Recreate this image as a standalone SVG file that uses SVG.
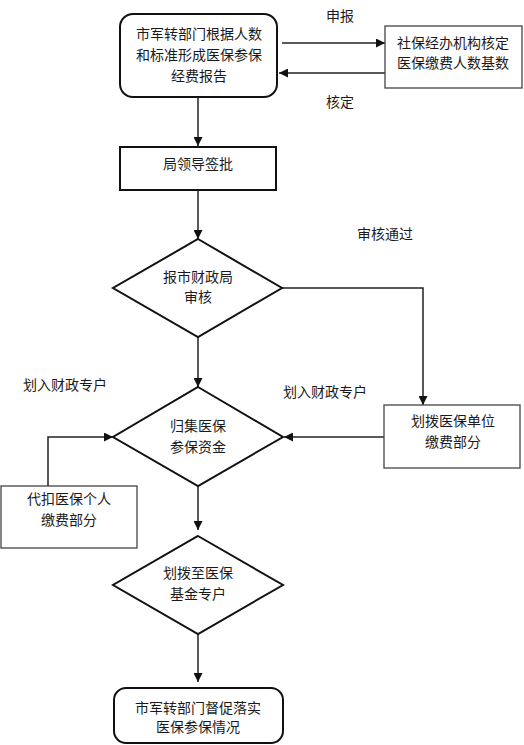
<svg xmlns="http://www.w3.org/2000/svg" width="524" height="745" viewBox="0 0 524 745">
<defs>
<marker id="ah" viewBox="0 0 10 10" refX="10" refY="5" markerWidth="9" markerHeight="9" markerUnits="userSpaceOnUse" orient="auto">
<path d="M0,0 L10,5 L0,10 Z" fill="#111"/>
</marker>
<style>
text{font-family:"Liberation Sans","Noto Sans CJK SC",sans-serif;font-size:14px;fill:#1a1a1a;text-anchor:middle;dominant-baseline:central}
.thick{fill:#fff;stroke:#111;stroke-width:2}
.thin{fill:#fff;stroke:#444;stroke-width:1.3}
.c{fill:none;stroke:#222;stroke-width:1.5}
</style>
</defs>
<rect width="524" height="745" fill="#fff"/>
<g id="connectors">
<line class="c" x1="282" y1="43" x2="385" y2="43" marker-end="url(#ah)"/>
<line class="c" x1="385" y1="73" x2="279" y2="73" marker-end="url(#ah)"/>
<line class="c" x1="198" y1="97" x2="198" y2="146" marker-end="url(#ah)"/>
<line class="c" x1="198" y1="190" x2="198" y2="239" marker-end="url(#ah)"/>
<polyline class="c" points="282,288 423,288 423,405" marker-end="url(#ah)"/>
<line class="c" x1="198" y1="337" x2="198" y2="387" marker-end="url(#ah)"/>
<line class="c" x1="384" y1="437" x2="284" y2="437" marker-end="url(#ah)"/>
<polyline class="c" points="48,486 48,437 113,437" marker-end="url(#ah)"/>
<line class="c" x1="198" y1="486" x2="198" y2="530" marker-end="url(#ah)"/>
<line class="c" x1="198" y1="634" x2="198" y2="682" marker-end="url(#ah)"/>
<text x="340" y="16">申报</text>
<text x="340" y="102">核定</text>
<text x="385" y="234">审核通过</text>
<text x="65" y="385">划入财政专户</text>
<text x="325" y="392">划入财政专户</text>
</g>
<g id="n1">
<rect class="thick" x="120" y="14" width="157" height="83" rx="13"/>
<text x="199" y="34">市军转部门根据人数</text>
<text x="199" y="55">和标准形成医保参保</text>
<text x="199" y="76">经费报告</text>
</g>
<g id="n2">
<rect class="thin" x="385" y="26" width="137" height="62"/>
<text x="453" y="43">社保经办机构核定</text>
<text x="453" y="63">医保缴费人数基数</text>
</g>
<g id="n3">
<rect class="thick" x="120" y="147" width="156" height="43"/>
<text x="198" y="164">局领导签批</text>
</g>
<g id="n4">
<polygon class="thick" points="198,239 282,288 198,337 113,288"/>
<text x="198" y="277">报市财政局</text>
<text x="198" y="297">审核</text>
</g>
<g id="n5">
<rect class="thin" x="384" y="405" width="136" height="63"/>
<text x="453" y="421">划拨医保单位</text>
<text x="453" y="442">缴费部分</text>
</g>
<g id="n6">
<polygon class="thick" points="198,387 283,437 198,486 113,437"/>
<text x="198" y="426">归集医保</text>
<text x="198" y="447">参保资金</text>
</g>
<g id="n7">
<rect class="thin" x="1" y="486" width="136" height="62"/>
<text x="69" y="499">代扣医保个人</text>
<text x="69" y="520">缴费部分</text>
</g>
<g id="n8">
<polygon class="thick" points="198,536 283,585 198,634 113,585"/>
<text x="198" y="573">划拨至医保</text>
<text x="198" y="594">基金专户</text>
</g>
<g id="n9">
<rect class="thick" x="114" y="688" width="169" height="55" rx="12"/>
<text x="198" y="708">市军转部门督促落实</text>
<text x="198" y="727">医保参保情况</text>
</g>
</svg>
